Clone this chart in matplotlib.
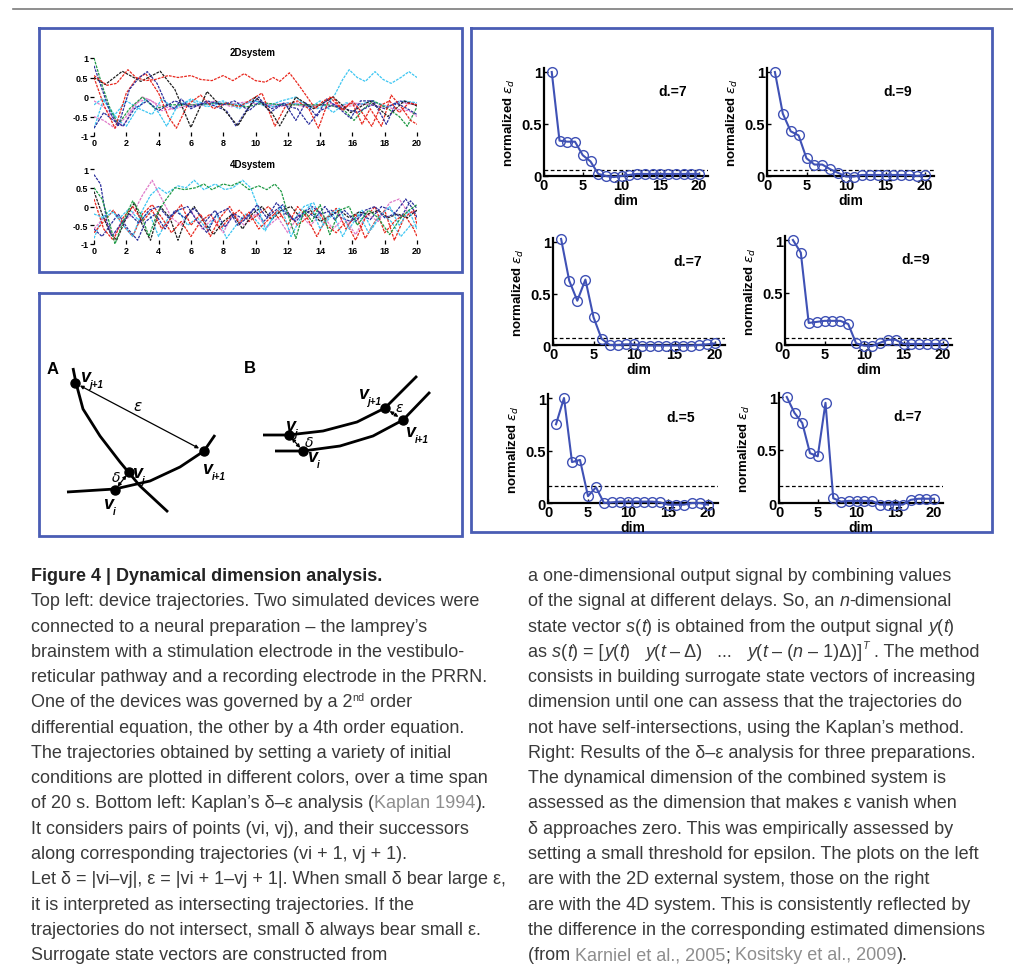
import matplotlib
matplotlib.use('Agg')
import matplotlib.pyplot as plt

W, H = 1013, 970
plt.rcParams['font.family'] = ['Liberation Sans', 'DejaVu Sans']

# ---------------- data: delta-epsilon panels ----------------
dims = list(range(1, 21))
eps_2d_a = [1.0, 0.34, 0.33, 0.33, 0.20, 0.14, 0.02, 0.0, -0.01, 0.0, 0.01, 0.02, 0.02, 0.02, 0.02, 0.02, 0.02, 0.02, 0.02, 0.02]
eps_4d_a = [1.0, 0.60, 0.43, 0.39, 0.17, 0.11, 0.11, 0.065, 0.03, -0.005, -0.005, 0.01, 0.01, 0.01, 0.01, 0.01, 0.01, 0.01, 0.0, 0.01]
eps_2d_b = [1.03, 0.625, 0.43, 0.635, 0.27, 0.06, 0.0, 0.0, 0.006, 0.006, -0.005, -0.005, -0.005, -0.005, -0.005, -0.005, -0.005, 0.0, 0.006, 0.015]
eps_4d_b = [1.0, 0.88, 0.21, 0.22, 0.23, 0.23, 0.23, 0.20, 0.016, -0.006, -0.01, 0.02, 0.05, 0.05, 0.01, 0.01, 0.01, 0.01, 0.01, 0.01]
eps_2d_c = [0.75, 1.0, 0.39, 0.41, 0.065, 0.15, 0.0, 0.006, 0.013, 0.013, 0.013, 0.013, 0.013, 0.006, -0.016, -0.016, -0.016, 0.0, 0.0, -0.016]
eps_4d_c = [1.0, 0.85, 0.755, 0.47, 0.44, 0.945, 0.045, 0.013, 0.02, 0.02, 0.02, 0.02, -0.015, -0.015, -0.015, -0.015, 0.03, 0.04, 0.04, 0.04]
thresholds = [0.058, 0.058, 0.064, 0.0625, 0.16, 0.16]
dim_labels = ['d.=7', 'd.=9', 'd.=7', 'd.=9', 'd.=5', 'd.=7']
eps_ticks_x = [0, 5, 10, 15, 20]
eps_ticks_y = [0, 0.5, 1]
eps_ticklabels_y = ['0', '0.5', '1']

# ---------------- data: device trajectories ----------------
traj_ticks_x = list(range(0, 21, 2))
traj_ticks_y = [-1, -0.5, 0, 0.5, 1]
traj_ticklabels_y = ['-1', '-0.5', '0', '0.5', '1']

s2_red1 = [(0, 0.55), (0.8, 0.3), (1.4, 0.35), (2.1, 0.7), (2.6, 0.5), (3.2, 0.42), (3.8, 0.45), (4.6, 0.55), (5.2, 0.5), (6.0, 0.55), (6.6, 0.45), (7.3, 0.42), (8.0, 0.55), (8.6, 0.42), (9.3, 0.6), (10.0, 0.42), (10.6, 0.38), (11.1, 0.5), (11.5, 0.4), (12.1, 0.62), (12.6, 0.35), (13.2, 0.0), (13.7, -0.3), (14.2, -0.1), (14.8, 0.0), (15.4, -0.35), (16.0, -0.1), (16.6, -0.4), (17.2, -0.75), (17.8, -0.2), (18.3, -0.1), (18.9, -0.4), (19.5, -0.15), (20, -0.2)]
s2_red2 = [(0, 0.5), (0.6, -0.2), (1.3, -0.8), (2.0, 0.1), (2.6, 0.45), (3.2, 0.6), (4.0, 0.1), (4.6, -0.5), (5.1, -0.8), (5.8, -0.2), (6.6, 0.05), (7.4, -0.3), (8.2, -0.15), (9.0, -0.25), (9.6, -0.1), (10.4, 0.1), (11.2, -0.75), (11.9, -0.2), (12.6, -0.1), (13.3, -0.3), (13.9, -0.8), (14.6, 0.0), (15.3, -0.3), (16.0, -0.15), (16.6, -0.7), (17.1, -0.3), (17.8, -0.75), (18.4, 0.05), (19.1, -0.3), (19.6, -0.6), (20, -0.7)]
s2_black = [(0, 0.5), (0.7, 0.32), (1.75, 0.66), (2.9, 0.4), (4.1, 0.66), (5.0, 0.2), (6.0, -0.78), (7.0, 0.14), (8.0, -0.3), (8.9, -0.74), (10.0, 0.0), (11.0, -0.4), (11.5, -0.74), (12.5, 0.0), (13.6, -0.3), (14.8, 0.0), (15.9, -0.4), (17.1, -0.1), (18.2, -0.5), (19.2, -0.1), (20, -0.23)]
s2_navy1 = [(0, 0.8), (0.5, 0.2), (1.0, -0.4), (1.5, -0.75), (2.2, 0.2), (2.8, 0.5), (3.3, 0.65), (3.9, 0.35), (4.5, -0.2), (5.0, -0.3), (5.4, -0.05), (6.0, -0.3), (7.0, -0.1), (8.0, -0.2), (8.7, -0.1), (9.6, -0.35), (10.3, -0.1), (11.0, -0.3), (11.8, -0.15), (12.5, -0.6), (13.1, -0.15), (13.8, -0.5), (14.4, -0.05), (15.2, -0.3), (15.9, -0.55), (16.5, -0.1), (17.3, -0.1), (18.1, -0.7), (18.7, -0.15), (19.4, -0.3), (20, -0.45)]
s2_navy2 = [(0, -0.8), (0.6, -0.4), (1.2, -0.6), (1.8, -0.75), (2.5, -0.3), (3.3, -0.1), (4.0, -0.35), (5.0, -0.1), (6.0, -0.25), (7.0, -0.15), (8.2, -0.35), (8.8, -0.75), (9.5, -0.3), (10.2, 0.0), (10.9, -0.4), (11.6, -0.2), (12.6, -0.3), (13.3, -0.7), (14.0, -0.35), (14.8, -0.2), (15.5, -0.3), (16.3, -0.4), (17.2, -0.2), (18.0, -0.3), (18.9, -0.1), (19.6, -0.15), (20, -0.2)]
s2_green = [(0, 1.0), (0.5, 0.3), (1.0, -0.3), (1.5, -0.7), (2.2, -0.3), (3.0, 0.0), (3.8, -0.3), (4.6, -0.2), (5.5, -0.2), (6.5, -0.2), (7.5, -0.15), (8.5, -0.2), (9.5, -0.25), (10.5, -0.15), (11.5, -0.2), (12.5, -0.2), (13.5, -0.2), (14.5, -0.2), (15.4, -0.3), (16.1, -0.6), (16.7, -0.3), (17.3, -0.1), (18.2, -0.3), (18.9, -0.5), (19.4, -0.75), (20, -0.25)]
s2_cyan1 = [(0, -0.2), (0.5, -0.05), (1.0, -0.3), (1.5, -0.6), (2.0, -0.75), (2.6, -0.35), (3.2, -0.05), (4.0, -0.4), (4.5, -0.75), (5.2, -0.2), (6.0, -0.1), (7.0, -0.25), (8.0, -0.15), (9.0, -0.2), (10.0, -0.1), (11.0, -0.25), (12.0, -0.15), (13.0, -0.2), (13.8, -0.3), (14.4, -0.2), (14.9, 0.05), (15.4, 0.45), (15.8, 0.7), (16.3, 0.5), (16.8, 0.4), (17.4, 0.65), (17.9, 0.45), (18.4, 0.35), (19.0, 0.5), (19.5, 0.65), (20, 0.5)]
s2_cyan2 = [(0, -0.8), (0.6, -0.05), (1.2, -0.5), (2.0, -0.1), (2.8, -0.3), (3.6, -0.45), (4.2, -0.05), (5.0, -0.3), (6.0, -0.05), (7.0, -0.2), (8.0, -0.1), (9.0, -0.3), (9.8, -0.05), (10.6, -0.25), (11.6, -0.1), (12.5, 0.0), (13.3, -0.3), (14.0, -0.1), (14.8, -0.4), (15.6, -0.15), (16.4, -0.2), (17.2, -0.1), (18.2, -0.25), (19.2, -0.1), (20, -0.15)]
s2_pink1 = [(0, -0.1), (0.6, -0.25), (1.2, -0.55), (1.8, -0.75), (2.4, -0.3), (3.0, 0.0), (3.6, -0.1), (4.2, -0.35), (5.0, -0.3), (6.0, -0.2), (7.0, -0.15), (8.0, -0.2), (9.0, -0.15), (10.0, -0.1), (11.0, -0.2), (12.0, -0.15), (13.0, -0.25), (14.0, -0.2), (15.0, -0.25), (16.0, -0.15), (17.0, -0.2), (18.0, -0.25), (19.0, -0.15), (20, -0.2)]
s2_pink2 = [(0, -0.5), (0.6, -0.6), (1.3, -0.8), (2.0, -0.5), (2.6, -0.15), (3.3, -0.05), (4.0, -0.2), (4.8, -0.3), (5.6, -0.15), (6.5, -0.25), (7.5, -0.1), (8.5, -0.25), (9.5, -0.15), (10.5, -0.2), (11.5, -0.25), (12.5, -0.15), (13.5, -0.25), (14.5, -0.15), (15.5, -0.25), (16.5, -0.2), (17.5, -0.15), (18.5, -0.3), (19.5, -0.35), (20, -0.5)]

s4_green = [(0, 0.5), (0.5, 0.2), (1.0, -0.5), (1.3, -1.0), (1.8, -0.4), (2.4, 0.15), (2.9, -0.2), (3.4, -0.8), (3.9, -0.2), (4.4, 0.15), (5.0, 0.5), (5.6, 0.45), (6.3, 0.5), (6.8, 0.6), (7.3, 0.45), (8.0, 0.6), (8.5, 0.55), (9.0, 0.65), (9.6, 0.45), (10.2, 0.55), (10.7, 0.45), (11.2, 0.6), (11.6, 0.4), (12.0, -0.2), (12.5, -0.85), (13.0, -0.1), (13.5, -0.4), (14.0, 0.05), (14.6, -0.75), (15.2, -0.1), (15.8, 0.0), (16.3, -0.5), (17.0, -0.1), (17.6, -0.3), (18.3, -0.75), (19.0, -0.3), (19.5, -0.1), (20, 0.05)]
s4_cyan1 = [(0, -0.2), (0.6, -0.3), (1.2, -0.15), (1.8, -0.5), (2.4, -0.8), (3.0, -0.1), (3.5, 0.3), (4.0, 0.5), (4.5, 0.35), (5.2, 0.55), (5.7, 0.5), (6.2, 0.7), (6.8, 0.45), (7.5, 0.6), (8.1, 0.45), (8.6, 0.5), (9.2, 0.7), (9.7, 0.5), (10.1, 0.05), (10.6, -0.6), (11.1, -0.3), (11.6, 0.0), (12.2, -0.8), (12.8, -0.3), (13.4, 0.05), (14.0, -0.6), (14.6, -0.2), (15.2, -0.05), (15.8, -0.6), (16.4, -0.2), (17.0, -0.7), (17.6, -0.3), (18.3, 0.0), (18.9, -0.5), (19.5, -0.1), (20, -0.6)]
s4_pink = [(0, -0.6), (0.6, -0.3), (1.2, -0.8), (1.8, -0.4), (2.4, -0.2), (3.0, 0.3), (3.6, 0.7), (4.2, 0.2), (4.8, -0.3), (5.4, -0.5), (6.0, -0.1), (6.7, -0.6), (7.4, -0.3), (8.0, -0.7), (8.6, -0.2), (9.3, -0.5), (10.0, -0.2), (10.7, -0.55), (11.4, -0.3), (12.0, -0.7), (12.7, -0.2), (13.4, -0.5), (14.1, -0.2), (14.8, -0.6), (15.5, -0.3), (16.2, -0.75), (16.9, -0.2), (17.6, -0.4), (18.3, 0.1), (18.9, 0.2), (19.5, -0.2), (20, -0.1)]
s4_navy1 = [(0, 0.85), (0.4, 0.6), (0.8, -0.4), (1.1, -0.8), (1.6, -0.5), (2.2, -0.2), (2.8, -0.45), (3.4, -0.1), (4.0, 0.0), (4.6, -0.3), (5.2, -0.1), (5.8, 0.0), (6.4, -0.4), (7.0, -0.7), (7.6, -0.2), (8.3, -0.05), (8.9, -0.5), (9.5, -0.3), (10.1, 0.05), (10.7, -0.3), (11.3, 0.1), (11.9, -0.2), (12.5, -0.4), (13.1, -0.1), (13.7, -0.3), (14.3, 0.0), (14.9, -0.35), (15.5, -0.1), (16.2, -0.4), (16.8, -0.1), (17.4, 0.0), (18.0, -0.3), (18.6, -0.2), (19.3, 0.2), (19.8, -0.1), (20, -0.3)]
s4_navy2 = [(0, -0.6), (0.5, -0.8), (1.0, -0.5), (1.5, -0.2), (2.1, -0.6), (2.7, -0.9), (3.2, -0.4), (3.8, -0.2), (4.4, -0.6), (5.0, -0.1), (5.6, -0.3), (6.2, -0.05), (6.9, -0.4), (7.5, -0.1), (8.1, -0.55), (8.7, -0.2), (9.3, -0.35), (9.9, -0.05), (10.5, -0.4), (11.1, -0.15), (11.7, 0.05), (12.3, -0.35), (12.9, -0.2), (13.5, 0.0), (14.1, -0.2), (14.7, -0.1), (15.3, -0.3), (15.9, -0.4), (16.5, -0.2), (17.1, -0.35), (17.8, 0.0), (18.4, -0.1), (19.0, -0.3), (19.6, 0.15), (20, -0.05)]
s4_black = [(0, 0.4), (0.5, -0.2), (1.0, -0.7), (1.4, -0.9), (2.0, -0.3), (2.5, 0.1), (3.0, -0.5), (3.5, -0.9), (4.1, 0.0), (4.7, -0.3), (5.2, -0.9), (5.7, -0.3), (6.2, 0.0), (6.8, -0.4), (7.4, -0.75), (8.0, -0.4), (8.6, -0.2), (9.2, -0.6), (9.8, -0.2), (10.4, 0.0), (11.0, -0.35), (11.6, -0.1), (12.2, 0.0), (12.8, -0.3), (13.4, -0.1), (14.0, -0.4), (14.6, -0.25), (15.2, -0.1), (15.8, -0.3), (16.4, -0.15), (17.0, -0.2), (17.6, -0.1), (18.2, -0.3), (18.8, -0.2), (19.4, -0.3), (20, -0.1)]
s4_red1 = [(0, 0.2), (0.6, -0.6), (1.2, -0.9), (1.8, -0.3), (2.4, 0.0), (3.0, -0.4), (3.6, -0.1), (4.2, -0.6), (4.8, -0.3), (5.4, 0.05), (6.0, -0.5), (6.6, -0.2), (7.2, -0.8), (7.8, -0.3), (8.4, 0.0), (9.0, -0.45), (9.6, -0.15), (10.2, -0.6), (10.8, -0.35), (11.4, -0.1), (12.0, -0.5), (12.6, 0.0), (13.2, -0.3), (13.8, -0.8), (14.4, -0.3), (15.0, -0.05), (15.6, -0.6), (16.2, -0.2), (16.8, -0.85), (17.4, -0.4), (18.0, -0.1), (18.6, -0.9), (19.2, -0.3), (19.8, -0.1), (20, -0.5)]
s4_red2 = [(0, -0.7), (0.6, -0.4), (1.2, -0.1), (1.8, -0.5), (2.4, -0.8), (3.0, -0.2), (3.6, 0.05), (4.2, -0.3), (4.8, -0.7), (5.4, -0.4), (6.0, -0.8), (6.6, -0.4), (7.2, -0.2), (7.8, -0.6), (8.4, -0.3), (9.0, -0.1), (9.6, -0.4), (10.2, -0.2), (10.8, 0.0), (11.4, -0.3), (12.0, -0.15), (12.6, -0.5), (13.2, -0.3), (13.8, -0.05), (14.4, -0.5), (15.0, -0.7), (15.6, -0.4), (16.2, -0.9), (16.8, -0.3), (17.4, 0.0), (18.0, -0.7), (18.6, -0.4), (19.2, -0.2), (19.8, -0.6), (20, -0.8)]
s4_cyan2 = [(0, -0.85), (0.5, -0.3), (1.0, -0.1), (1.6, -0.3), (2.2, -0.05), (2.8, -0.4), (3.4, -0.15), (4.0, -0.8), (4.6, -0.3), (5.2, -0.1), (5.8, -0.5), (6.4, -0.3), (7.0, -0.6), (7.6, -0.2), (8.2, -0.85), (8.8, -0.5), (9.4, -0.2), (10.0, -0.35), (10.6, -0.65), (11.2, -0.2), (11.8, -0.1), (12.4, -0.35), (13.0, 0.0), (13.6, 0.1), (14.2, -0.5), (14.8, -0.2), (15.4, -0.8), (16.0, -0.3), (16.6, -0.1), (17.2, -0.6), (17.8, -0.2), (18.4, -0.4), (19.0, -0.8), (19.6, -0.5), (20, -0.55)]

RED, BLACK, NAVY, GREEN, CYAN, PINK = '#e8281e', '#1e1e1e', '#2b2f9c', '#1f9a45', '#3cc6f2', '#e07ac8'
sys2_lines = [(s2_pink1, PINK), (s2_pink2, PINK), (s2_cyan2, CYAN), (s2_cyan1, CYAN), (s2_green, GREEN),
              (s2_navy2, NAVY), (s2_red2, RED), (s2_black, BLACK), (s2_navy1, NAVY), (s2_red1, RED)]
sys4_lines = [(s4_cyan2, CYAN), (s4_pink, PINK), (s4_red2, RED), (s4_black, BLACK), (s4_navy2, NAVY),
              (s4_red1, RED), (s4_cyan1, CYAN), (s4_navy1, NAVY), (s4_green, GREEN)]

# ---------------- caption text ----------------
left_lines = [
    "Top left: device trajectories. Two simulated devices were",
    "connected to a neural preparation \u2013 the lamprey\u2019s",
    "brainstem with a stimulation electrode in the vestibulo-",
    "reticular pathway and a recording electrode in the PRRN.",
    "SUP2ND",
    "differential equation, the other by a 4th order equation.",
    "The trajectories obtained by setting a variety of initial",
    "conditions are plotted in different colors, over a time span",
    "REFKAPLAN",
    "It considers pairs of points (vi, vj), and their successors",
    "along corresponding trajectories (vi + 1, vj + 1).",
    "Let \u03b4 = |vi\u2013vj|, \u03b5 = |vi + 1\u2013vj + 1|. When small \u03b4 bear large \u03b5,",
    "it is interpreted as intersecting trajectories. If the",
    "trajectories do not intersect, small \u03b4 always bear small \u03b5.",
    "Surrogate state vectors are constructed from",
]
right_lines = [
    "a one-dimensional output signal by combining values",
    "NDIM",
    "STATEVEC",
    "FORMULA",
    "consists in building surrogate state vectors of increasing",
    "dimension until one can assess that the trajectories do",
    "not have self-intersections, using the Kaplan\u2019s method.",
    "Right: Results of the \u03b4\u2013\u03b5 analysis for three preparations.",
    "The dynamical dimension of the combined system is",
    "assessed as the dimension that makes \u03b5 vanish when",
    "\u03b4 approaches zero. This was empirically assessed by",
    "setting a small threshold for epsilon. The plots on the left",
    "are with the 2D external system, those on the right",
    "are with the 4D system. This is consistently reflected by",
    "the difference in the corresponding estimated dimensions",
    "REFS",
]

# ---------------- figure ----------------
fig = plt.figure(figsize=(W / 100, H / 100), dpi=100)
renderer = fig.canvas.get_renderer()

ax0 = fig.add_axes([0, 0, 1, 1])
ax0.set_xlim(0, W)
ax0.set_ylim(H, 0)
ax0.axis('off')

FRAME = '#4a5db4'
ax0.plot([13, W], [10, 10], color='#7c7c7c', lw=1.2)
for (x0, y0, x1, y1) in [(39, 29, 462, 273), (39, 294, 462, 537), (471, 29, 992, 533)]:
    ax0.plot([x0, x1, x1, x0, x0], [y0, y0, y1, y1, y0], color=FRAME, lw=2.0, solid_joinstyle='miter')


def px_axes(x0, y0, x1, y1):
    return fig.add_axes([x0 / W, 1 - y1 / H, (x1 - x0) / W, (y1 - y0) / H])


# ---- trajectory plots ----
for (lines, title, ytop, ybot, ty) in [(sys2_lines, '2Dsystem', 59, 137, 53), (sys4_lines, '4Dsystem', 170, 245, 165)]:
    ax = px_axes(94, ytop, 417, ybot)
    ax.set_facecolor('none')
    for pts, col in lines:
        ax.plot([p[0] for p in pts], [p[1] for p in pts], color=col, lw=0.9, ls=(0, (2.2, 0.9)))
    ax.set_xlim(0, 20)
    ax.set_ylim(-1, 1)
    for sp in ax.spines.values():
        sp.set_visible(False)
    ax.set_xticks(traj_ticks_x, [str(v) for v in traj_ticks_x], fontsize=6.5, fontweight='bold')
    ax.set_yticks(traj_ticks_y, traj_ticklabels_y, fontsize=6.5, fontweight='bold')
    ax.tick_params(axis='x', direction='in', length=3, width=0.9, pad=1.5)
    ax.tick_params(axis='y', direction='out', length=3, width=0.9, pad=1)
    fig.text(253 / W, 1 - ty / H, title, ha='center', va='center', fontsize=7, fontweight='bold')

# ---- delta-epsilon panels ----
BLUE = '#3f51b5'
panels = [(544, 699, 177, 73), (767, 925, 177, 73), (553, 715, 346, 243),
          (785, 943, 346, 241), (548, 708, 504, 399), (779, 934, 504, 398)]
eps_data = [eps_2d_a, eps_4d_a, eps_2d_b, eps_4d_b, eps_2d_c, eps_4d_c]
XR, YT = 21.2, 1.04
for (x0, x20, y0, y1), vals, thr, lab in zip(panels, eps_data, thresholds, dim_labels):
    right = x0 + (x20 - x0) * XR / 20
    top = y0 - (y0 - y1) * YT
    ax = px_axes(x0, top, right, y0)
    ax.set_facecolor('none')
    ax.set_xlim(0, XR)
    ax.set_ylim(0, YT)
    ax.axhline(thr, color='k', lw=0.9, ls=(0, (3, 2)))
    ax.plot(dims, vals, color=BLUE, lw=1.5, marker='o', ms=7, mfc='none', mec=BLUE, mew=1.0, clip_on=False, zorder=3)
    for s in ['top', 'right']:
        ax.spines[s].set_visible(False)
    for s in ['left', 'bottom']:
        ax.spines[s].set_linewidth(1.6)
    ax.set_xticks(eps_ticks_x, [str(v) for v in eps_ticks_x], fontsize=10.5, fontweight='bold')
    ax.set_yticks(eps_ticks_y, eps_ticklabels_y, fontsize=10.5, fontweight='bold')
    ax.tick_params(direction='in', length=3, width=1.0, pad=1.5)
    ax.set_xlabel('dim', fontsize=10, fontweight='bold', labelpad=0.5)
    ax.set_ylabel(r'normalized $\varepsilon_d$', fontsize=9.5, fontweight='bold')
    axw = right - x0
    ax.yaxis.set_label_coords(-27 / axw, 0.5)
    ax.text(16.6, 0.82, lab, fontsize=10, fontweight='bold', ha='center', va='center')

# ---- Kaplan diagram ----
A_traj1_x = [73, 76, 83, 100, 120, 140, 168]
A_traj1_y = [369, 384, 410, 437, 463, 487, 513]
A_traj2_x = [67, 115, 150, 180, 204, 215]
A_traj2_y = [493, 490, 482, 468, 452, 436]
B_traj1_x = [263, 288, 323, 357, 385, 417]
B_traj1_y = [436, 436, 432, 423, 409, 377]
B_traj2_x = [275, 303, 340, 373, 403, 430]
B_traj2_y = [452, 452, 447, 437, 421, 393]
for xs, ys in [(A_traj1_x, A_traj1_y), (A_traj2_x, A_traj2_y), (B_traj1_x, B_traj1_y), (B_traj2_x, B_traj2_y)]:
    ax0.plot(xs, ys, color='k', lw=2.0, solid_capstyle='butt')

A_pts = {'vj1': (75, 384), 'vj': (129, 473), 'vi': (115, 491), 'vi1': (204, 452)}
B_pts = {'vj1': (385, 409), 'vj': (289, 436), 'vi': (303, 452), 'vi1': (403, 421)}
for pts in (A_pts, B_pts):
    ax0.plot([p[0] for p in pts.values()], [p[1] for p in pts.values()], 'o', color='k', ms=6.5, zorder=5)
    for a, b, sh in [('vj1', 'vi1', 4), ('vj', 'vi', 3)]:
        ax0.annotate('', xy=pts[b], xytext=pts[a],
                     arrowprops=dict(arrowstyle='<|-|>', color='k', lw=0.9, mutation_scale=5, shrinkA=sh, shrinkB=sh))

ax0.text(53, 370, 'A', fontsize=12, fontweight='bold', ha='center', va='center')
ax0.text(250, 369, 'B', fontsize=12, fontweight='bold', ha='center', va='center')
ax0.text(138, 407, r'$\varepsilon$', fontsize=11, ha='center', va='center')
ax0.text(116, 478, r'$\delta$', fontsize=10, ha='center', va='center')
ax0.text(400, 408, r'$\varepsilon$', fontsize=10, ha='center', va='center')
ax0.text(309, 443, r'$\delta$', fontsize=10, ha='center', va='center')

v_labels = [((85, 378), 'j+1'), ((137, 474), 'j'), ((207, 470), 'i+1'), ((108, 505), 'i'),
            ((290, 427), 'j'), ((312, 458), 'i'), ((363, 395), 'j+1'), ((410, 433), 'i+1')]
for (vx, vy), sub in v_labels:
    ax0.text(vx, vy, 'v', fontsize=13, fontweight='bold', style='italic', ha='center', va='center')
    ax0.text(vx + 4.5, vy + 7, sub, fontsize=7, fontweight='bold', style='italic', ha='left', va='center')


# ---- caption ----
def text_width(s, **kw):
    t1 = fig.text(0, 0, '|' + s + '|', **kw)
    w1 = t1.get_window_extent(renderer).width
    t1.remove()
    t2 = fig.text(0, 0, '||', **kw)
    w2 = t2.get_window_extent(renderer).width
    t2.remove()
    return w1 - w2


FS = 10 * 449 / text_width(left_lines[0], fontsize=10)
TXT = '#3a3a3a'
REF = '#8e8e8e'
IT = {'style': 'italic'}
GR = {'color': REF}


def draw_runs(x, y, parts):
    for s, st in parts:
        kw = dict(fontsize=FS, color=TXT)
        st = dict(st)
        dy = st.pop('dy', 0)
        kw.update(st)
        fig.text(x / W, 1 - (y + dy) / H, s, ha='left', va='baseline', **kw)
        x += text_width(s, **kw)


special = {
    'SUP2ND': [("One of the devices was governed by a 2", {}), ("nd", {'fontsize': FS * 0.6, 'dy': -6}), (" order", {})],
    'REFKAPLAN': [("of 20 s. Bottom left: Kaplan\u2019s \u03b4\u2013\u03b5 analysis (", {}), ("Kaplan 1994", GR), (").", {})],
    'NDIM': [("of the signal at different delays. So, an ", {}), ("n", IT), ("-dimensional", {})],
    'STATEVEC': [("state vector ", {}), ("s", IT), ("(", {}), ("t", IT), (") is obtained from the output signal ", {}),
                 ("y", IT), ("(", {}), ("t", IT), (")", {})],
    'FORMULA': [("as ", {}), ("s", IT), ("(", {}), ("t", IT), (") = [", {}), ("y", IT), ("(", {}), ("t", IT), (")   ", {}),
                ("y", IT), ("(", {}), ("t", IT), (" \u2013 \u0394)   ...   ", {}), ("y", IT), ("(", {}), ("t", IT),
                (" \u2013 (", {}), ("n", IT), (" \u2013 1)\u0394)]", {}), ("T", {'fontsize': FS * 0.6, 'style': 'italic', 'dy': -8}),
                (" . The method", {})],
    'REFS': [("(from ", {}), ("Karniel et al., 2005", GR), ("; ", {}), ("Kositsky et al., 2009", GR), (").", {})],
}

LH = 25.27
base0 = 581
fig.text(31 / W, 1 - base0 / H, "Figure 4 | Dynamical dimension analysis.", ha='left', va='baseline',
         fontsize=FS, fontweight='bold', color='#222222')
for i, line in enumerate(left_lines):
    y = base0 + LH * (i + 1)
    draw_runs(31, y, special.get(line, [(line, {})]))
for i, line in enumerate(right_lines):
    y = base0 + LH * i
    draw_runs(528, y, special.get(line, [(line, {})]))

fig.savefig('out.png', dpi=100)
